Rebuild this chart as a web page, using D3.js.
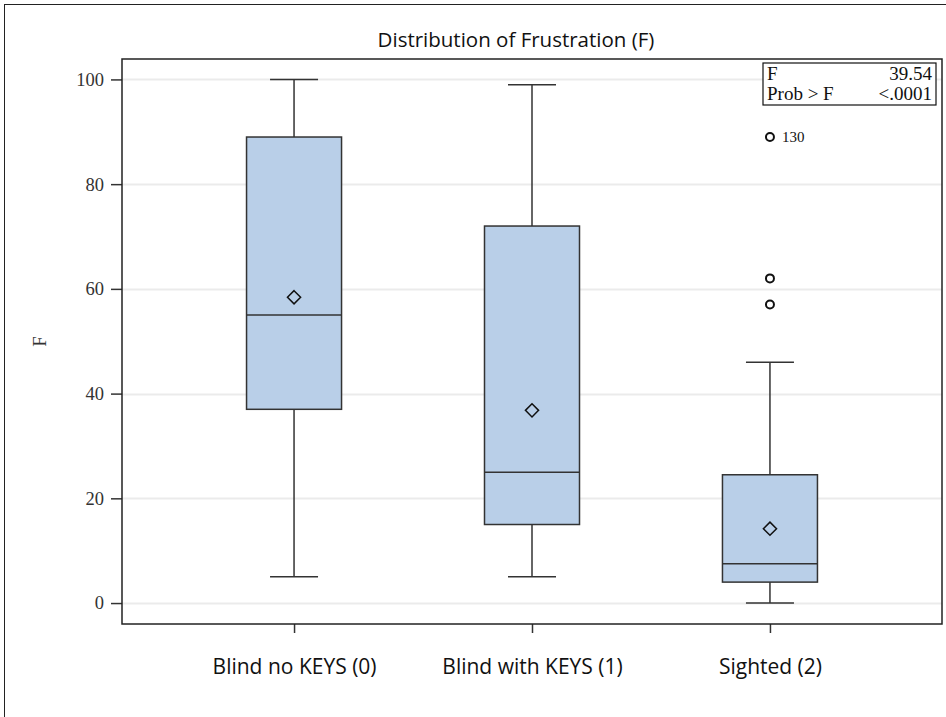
<!DOCTYPE html>
<html>
<head>
<meta charset="utf-8">
<script src="https://cdn.jsdelivr.net/npm/d3@7"></script>
<style>
  body { margin: 0; background: #fff; }
  svg { display: block; }
</style>
</head>
<body>
<div id="chart"></div>
<script>
const categories = ["Blind no KEYS (0)", "Blind with KEYS (1)", "Sighted (2)"];
const q1Values = [37, 15, 4];
const medianValues = [55, 25, 7.5];
const q3Values = [89, 72, 24.5];
const lowWhiskers = [5, 5, 0];
const highWhiskers = [100, 99, 46];
const meanValues = [58.4, 36.8, 14.2];
const outliers = [
  { cat: "Sighted (2)", value: 57, label: "" },
  { cat: "Sighted (2)", value: 62, label: "" },
  { cat: "Sighted (2)", value: 89, label: "130" },
];
const yTicks = [0, 20, 40, 60, 80, 100];
const statRows = [["F", "39.54"], ["Prob > F", "<.0001"]];

const width = 946;
const height = 717;
const margin = { left: 122, right: 4, top: 59, bottom: 93 };
const serif = "'Liberation Serif', 'Times New Roman', serif";
const sans = "'Open Sans', 'Noto Sans', sans-serif";

const svg = d3
  .select("#chart")
  .append("svg")
  .attr("width", width)
  .attr("height", height);

// outer frame
svg
  .append("rect")
  .attr("x", 4.5)
  .attr("y", 4.5)
  .attr("width", width + 10)
  .attr("height", height + 10)
  .attr("fill", "none")
  .attr("stroke", "#222")
  .attr("stroke-width", 1);

svg
  .append("text")
  .attr("x", 516)
  .attr("y", 47)
  .attr("text-anchor", "middle")
  .attr("font-family", sans)
  .attr("font-size", 20.5)
  .attr("fill", "#111")
  .text("Distribution of Frustration (F)");

const x = d3
  .scalePoint()
  .domain(categories)
  .range([margin.left, width - margin.right])
  .padding(0.723);

const y = d3
  .scaleLinear()
  .domain([-4, 103.9])
  .range([height - margin.bottom, margin.top]);

const boxWidth = 95;
const capWidth = 48;

// grid
svg
  .append("g")
  .selectAll("line")
  .data(yTicks)
  .join("line")
  .attr("x1", margin.left)
  .attr("x2", width - margin.right)
  .attr("y1", (d) => Math.round(y(d)) + 0.5)
  .attr("y2", (d) => Math.round(y(d)) + 0.5)
  .attr("stroke", "#ebebeb")
  .attr("stroke-width", 2);

// y axis
const yAxis = svg
  .append("g")
  .attr("transform", `translate(${margin.left},0)`)
  .call(d3.axisLeft(y).tickValues(yTicks).tickSize(11).tickPadding(7));
yAxis.select(".domain").remove();
yAxis.selectAll(".tick line").attr("stroke", "#333").attr("stroke-width", 1.5);
yAxis
  .selectAll(".tick text")
  .attr("font-family", serif)
  .attr("font-size", 18.5)
  .attr("fill", "#333");

svg
  .append("text")
  .attr("transform", `translate(46, ${(margin.top + height - margin.bottom) / 2}) rotate(-90)`)
  .attr("text-anchor", "middle")
  .attr("font-family", serif)
  .attr("font-size", 19)
  .attr("fill", "#333")
  .text("F");

// x axis
const xAxis = svg
  .append("g")
  .attr("transform", `translate(0,${height - margin.bottom})`)
  .call(d3.axisBottom(x).tickSize(9).tickPadding(26));
xAxis.select(".domain").remove();
xAxis.selectAll(".tick line").attr("stroke", "#333").attr("stroke-width", 1.5);
xAxis
  .selectAll(".tick text")
  .attr("font-family", sans)
  .attr("font-size", 21)
  .attr("fill", "#111");

// boxes
const boxes = categories.map((c, i) => ({
  cat: c,
  q1: q1Values[i],
  med: medianValues[i],
  q3: q3Values[i],
  lo: lowWhiskers[i],
  hi: highWhiskers[i],
  mean: meanValues[i],
}));

const boxG = svg
  .append("g")
  .selectAll("g")
  .data(boxes)
  .join("g")
  .attr("transform", (d) => `translate(${x(d.cat)},0)`);

const stroke = "#333";

boxG
  .append("line")
  .attr("y1", (d) => y(d.hi))
  .attr("y2", (d) => y(d.q3))
  .attr("stroke", stroke)
  .attr("stroke-width", 1.5);
boxG
  .append("line")
  .attr("y1", (d) => y(d.lo))
  .attr("y2", (d) => y(d.q1))
  .attr("stroke", stroke)
  .attr("stroke-width", 1.5);
boxG
  .selectAll(".cap")
  .data((d) => [d.lo, d.hi])
  .join("line")
  .attr("class", "cap")
  .attr("x1", -capWidth / 2)
  .attr("x2", capWidth / 2)
  .attr("y1", (d) => y(d))
  .attr("y2", (d) => y(d))
  .attr("stroke", stroke)
  .attr("stroke-width", 1.5);
boxG
  .append("rect")
  .attr("x", -boxWidth / 2)
  .attr("width", boxWidth)
  .attr("y", (d) => y(d.q3))
  .attr("height", (d) => y(d.q1) - y(d.q3))
  .attr("fill", "#b9cfe8")
  .attr("stroke", stroke)
  .attr("stroke-width", 1.5);
boxG
  .append("line")
  .attr("x1", -boxWidth / 2)
  .attr("x2", boxWidth / 2)
  .attr("y1", (d) => y(d.med))
  .attr("y2", (d) => y(d.med))
  .attr("stroke", stroke)
  .attr("stroke-width", 1.5);
boxG
  .append("path")
  .attr("d", d3.symbol(d3.symbolDiamond2, 110))
  .attr("transform", (d) => `translate(0,${y(d.mean)})`)
  .attr("fill", "none")
  .attr("stroke", "#111")
  .attr("stroke-width", 1.5);

// outliers
const outG = svg
  .append("g")
  .selectAll("g")
  .data(outliers)
  .join("g")
  .attr("transform", (d) => `translate(${x(d.cat)},${y(d.value)})`);
outG
  .append("circle")
  .attr("r", 4)
  .attr("fill", "none")
  .attr("stroke", "#111")
  .attr("stroke-width", 2);
outG
  .append("text")
  .attr("x", 12)
  .attr("dy", "0.35em")
  .attr("font-family", serif)
  .attr("font-size", 15)
  .attr("fill", "#111")
  .text((d) => d.label);

// plot frame
svg
  .append("rect")
  .attr("x", margin.left)
  .attr("y", margin.top)
  .attr("width", width - margin.left - margin.right)
  .attr("height", height - margin.top - margin.bottom)
  .attr("fill", "none")
  .attr("stroke", "#222")
  .attr("stroke-width", 1.5);

// stats inset
const inset = svg.append("g").attr("transform", "translate(763,63)");
inset
  .append("rect")
  .attr("width", 173)
  .attr("height", 42)
  .attr("fill", "#fff")
  .attr("stroke", "#111")
  .attr("stroke-width", 1.2);
inset
  .selectAll(".lbl")
  .data(statRows)
  .join("text")
  .attr("class", "lbl")
  .attr("x", 4)
  .attr("y", (d, i) => 17 + i * 20)
  .attr("font-family", serif)
  .attr("font-size", 19)
  .attr("fill", "#111")
  .text((d) => d[0]);
inset
  .selectAll(".val")
  .data(statRows)
  .join("text")
  .attr("class", "val")
  .attr("x", 169)
  .attr("y", (d, i) => 17 + i * 20)
  .attr("text-anchor", "end")
  .attr("font-family", serif)
  .attr("font-size", 19)
  .attr("fill", "#111")
  .text((d) => d[1]);
</script>
</body>
</html>
